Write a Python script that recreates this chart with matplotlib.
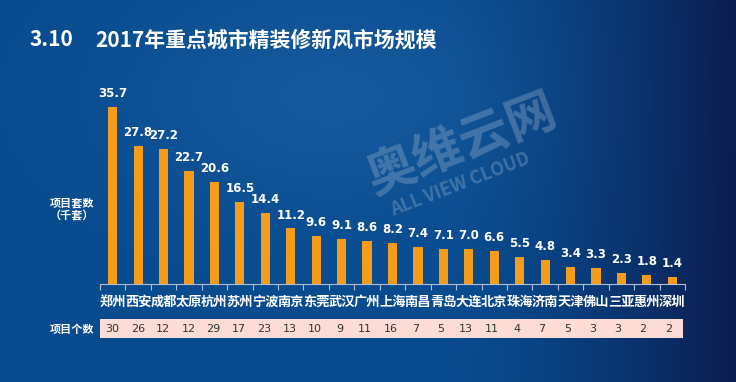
import matplotlib.pyplot as plt
import numpy as np

plt.rcParams['font.family'] = ['Noto Sans CJK SC', 'DejaVu Sans']

cities = ['郑州', '西安', '成都', '太原', '杭州', '苏州', '宁波', '南京', '东莞', '武汉', '广州', '上海',
          '南昌', '青岛', '大连', '北京', '珠海', '济南', '天津', '佛山', '三亚', '惠州', '深圳']
sets_k = [35.7, 27.8, 27.2, 22.7, 20.6, 16.5, 14.4, 11.2, 9.6, 9.1, 8.6, 8.2,
          7.4, 7.1, 7.0, 6.6, 5.5, 4.8, 3.4, 3.3, 2.3, 1.8, 1.4]
projects = [30, 26, 12, 12, 29, 17, 23, 13, 10, 9, 11, 16, 7, 5, 13, 11, 4, 7, 5, 3, 3, 2, 2]

W, H = 736, 382
fig = plt.figure(figsize=(W / 100, H / 100), dpi=100)

# background gradient
bg = fig.add_axes([0, 0, 1, 1])
xs = np.linspace(0, 1, 300)
ys = np.linspace(0, 1, 150)
X, Y = np.meshgrid(xs, ys)
base = np.array([0x08, 0x4b, 0x8e]) / 255
dark = np.array([0x0b, 0x1d, 0x50]) / 255
t = np.clip((X - 0.62) / 0.38, 0, 1) ** 1.4
img = base[None, None, :] * (1 - t[..., None]) + dark[None, None, :] * t[..., None]
light = 0.05 * np.exp(-((X - 0.45) ** 2 / 0.08 + (Y - 0.75) ** 2 / 0.1))
img = np.clip(img + light[..., None], 0, 1)
bg.imshow(img, extent=[0, 1, 0, 1], aspect='auto', origin='lower')
bg.set_xlim(0, 1)
bg.set_ylim(0, 1)
bg.axis('off')

# watermark
bg.text(462 / W, 1 - 145 / H, '奥维云网', rotation=21, fontsize=36, fontweight='bold', color='#b8c8dc',
        alpha=0.3, ha='center', va='center')
bg.text(460 / W, 1 - 184 / H, 'ALL VIEW CLOUD', rotation=21, fontsize=13, fontweight='bold',
        color='#b8c8dc', alpha=0.3, ha='center', va='center')

fig.text(30 / W, 1 - 40 / H, '3.10', color='white', fontsize=15, fontweight='bold', va='center')
fig.text(95 / W, 1 - 40 / H, '2017年重点城市精装修新风市场规模', color='white', fontsize=15,
         fontweight='bold', va='center')

left, right = 100 / W, 685 / W
base_y = 284
top_y = 80
ax = fig.add_axes([left, 1 - base_y / H, right - left, (base_y - top_y) / H])
ax.set_facecolor('none')
x = np.arange(len(cities))
ax.bar(x, sets_k, width=0.36, color='#f59c1a', zorder=3)
for xi, v in zip(x, sets_k):
    ax.text(xi, v + 1.4, f'{v:.1f}', ha='center', va='bottom', color='white', fontsize=8.5,
            fontweight='bold', family='DejaVu Sans')
ax.set_xlim(-0.5, len(cities) - 0.5)
ax.set_ylim(0, (base_y - top_y) / 4.96)
for s in ['top', 'right', 'left']:
    ax.spines[s].set_visible(False)
ax.spines['bottom'].set_color('#b0c0d4')
ax.spines['bottom'].set_linewidth(0.8)
ax.set_yticks([])
ax.set_xticks(np.arange(-0.5, len(cities), 1.0))
ax.tick_params(axis='x', direction='out', length=4, color='#b0c0d4', labelbottom=False)
for xi, c in zip(x, cities):
    ax.text(xi, -3.6, c, ha='center', va='center', color='white', fontsize=9.5, fontweight='bold')

# project count row
tab = fig.add_axes([left, 1 - 338 / H, (683 - 100) / W, 19 / H])
tab.set_facecolor('#fcdcd4')
tab.set_xlim(-0.5, len(cities) - 0.5 + 2 / 25.4)
tab.set_ylim(0, 1)
tab.set_xticks([])
tab.set_yticks([])
for s in tab.spines.values():
    s.set_visible(False)
for xi, n in zip(x, projects):
    tab.text(xi, 0.5, str(n), ha='center', va='center', color='#333333', fontsize=8,
             family='DejaVu Sans')

fig.text(72 / W, 1 - 203 / H, '项目套数', color='white', fontsize=8, fontweight='bold',
         ha='center', va='center')
fig.text(72 / W, 1 - 216 / H, '（千套）', color='white', fontsize=8, fontweight='bold',
         ha='center', va='center')
fig.text(72 / W, 1 - 329 / H, '项目个数', color='white', fontsize=8, fontweight='bold',
         ha='center', va='center')

fig.savefig('out.png', dpi=100)
